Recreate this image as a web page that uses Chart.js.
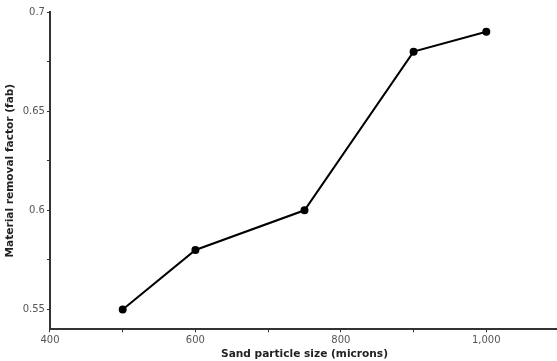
<!DOCTYPE html>
<html>
<head>
<meta charset="utf-8">
<script src="https://cdn.jsdelivr.net/npm/chart.js@4"></script>
<style>
  body { margin: 0; background: #fff; overflow: hidden; }
  canvas { display: block; }
</style>
</head>
<body>
<canvas id="grafico" width="564" height="361"></canvas>
<script>
var tamanhos = [500, 600, 750, 900, 1000];
var fatores = [0.55, 0.58, 0.60, 0.68, 0.69];
var rotulosX = [400, 600, 800, 1000];
var rotulosY = [0.55, 0.6, 0.65, 0.7];

var eixo = '#333';
var corTexto = '#555';

new Chart(document.getElementById('grafico').getContext('2d'), {
    type: 'scatter',
    data: {
        datasets: [{
            data: tamanhos.map(function(x, i) { return { x: x, y: fatores[i] }; }),
            showLine: true,
            borderColor: '#000',
            backgroundColor: '#000',
            borderWidth: 2,
            pointRadius: 3,
            pointHoverRadius: 3
        }]
    },
    options: {
        responsive: false,
        animation: false,
        layout: { padding: { top: 12, right: 0, left: 4, bottom: 0 } },
        plugins: { legend: { display: false }, tooltip: { enabled: false } },
        scales: {
            x: {
                type: 'linear',
                min: 400,
                max: 1100,
                border: { color: eixo, width: 2 },
                grid: { drawOnChartArea: false, color: eixo, tickLength: 3 },
                ticks: {
                    stepSize: 100,
                    color: corTexto,
                    font: { family: 'DejaVu Sans', size: 10 },
                    padding: 2,
                    maxRotation: 0,
                    callback: function(v) {
                        return rotulosX.indexOf(v) >= 0 ? v.toLocaleString('en-US') : '';
                    }
                },
                title: {
                    display: true,
                    text: 'Sand particle size (microns)',
                    color: '#222',
                    font: { family: 'DejaVu Sans', size: 10.6, weight: 'bold' },
                    padding: { top: 0, bottom: 0 }
                }
            },
            y: {
                min: 0.54,
                max: 0.7,
                border: { color: eixo, width: 2 },
                grid: { drawOnChartArea: false, color: eixo, tickLength: 3 },
                afterBuildTicks: function(s) {
                    var v = [0.55, 0.575, 0.6, 0.625, 0.65, 0.675, 0.7];
                    s.ticks = v.map(function(x) { return { value: x }; });
                },
                ticks: {
                    color: corTexto,
                    font: { family: 'DejaVu Sans', size: 10 },
                    padding: 2,
                    callback: function(v) {
                        for (var i = 0; i < rotulosY.length; i++) {
                            if (Math.abs(rotulosY[i] - v) < 1e-6) return String(rotulosY[i]);
                        }
                        return '';
                    }
                },
                title: {
                    display: true,
                    text: 'Material removal factor (fab)',
                    color: '#222',
                    font: { family: 'DejaVu Sans', size: 10.6, weight: 'bold' },
                    padding: { top: 0, bottom: 4 }
                }
            }
        }
    }
});
</script>
</body>
</html>
